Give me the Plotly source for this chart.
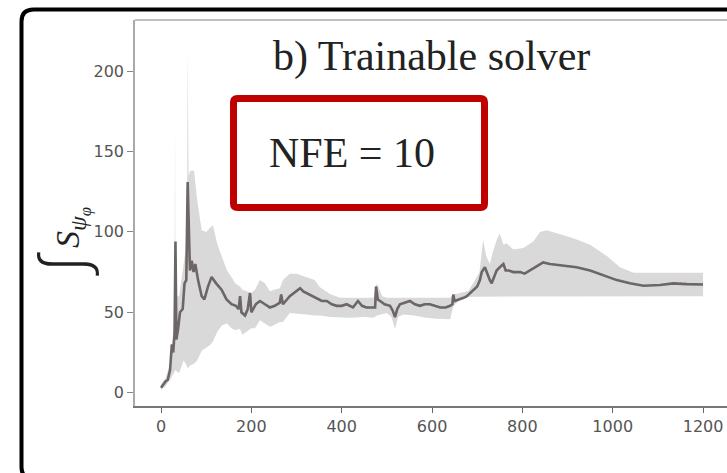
import plotly.graph_objects as go

# ---------------- data ----------------
x_mean = [0, 5, 10, 15, 20, 24, 27, 30, 32, 34, 38, 42, 48, 52, 56, 59, 62, 64, 68, 72,
          76, 82, 90, 96, 104, 112, 122, 134, 145, 156, 166, 172, 175, 178, 186, 192, 197,
          200, 210, 219, 230, 241, 252, 263, 266, 270, 285, 300, 308, 315, 322, 335, 345,
          356, 367, 378, 389, 400, 411, 425, 436, 445, 455, 474, 476, 480, 485, 495, 507,
          513, 518, 523, 529, 540, 551, 562, 573, 584, 595, 606, 618, 630, 640, 645, 647,
          650, 662, 670, 677, 685, 692, 700, 706, 710, 717, 722, 728, 732, 738, 743, 750,
          758, 763, 770, 780, 795, 805, 817, 830, 846, 861, 890, 920, 950, 979, 1009, 1038,
          1068, 1105, 1134, 1164, 1200]
mean_val = [3, 5, 7, 8, 14, 30, 25, 37, 94, 33, 40, 50, 52, 68, 70, 131, 95, 76, 82, 75,
            80, 70, 60, 58, 66, 72, 68, 64, 58, 55, 54, 52, 60, 50, 48, 52, 62,
            50, 55, 57, 55, 53, 54, 56, 61, 55, 60, 63, 65, 63, 62, 60, 59,
            57, 57, 55, 54, 54, 55, 53, 57, 54, 53, 53, 66, 58, 57, 55, 54,
            51, 47, 52, 55, 56, 57, 55, 54, 55, 55, 54, 53, 53, 54, 55, 61,
            57, 58, 59, 60, 62, 64, 66, 70, 75, 78, 74, 70, 68, 72, 76, 78,
            80, 76, 76, 75, 75, 74, 76, 78, 81, 80, 79, 78, 76, 73, 70, 68,
            66.5, 67, 68, 67.5, 67.3]

x_band = [0, 10, 20, 28, 30, 31, 32, 40, 50, 55, 58, 59, 61, 65, 73, 80, 90, 100, 110, 115,
          125, 135, 146, 156, 164, 175, 180, 190, 200, 208, 219, 230, 241, 250, 263, 270,
          285, 300, 322, 340, 352, 374, 396, 418, 450, 470, 478, 490, 500, 510, 518, 525,
          536, 560, 588, 610, 640, 647, 662, 680, 691, 705, 713, 720, 728, 735, 743, 750,
          758, 765, 780, 802, 824, 839, 854, 876, 913, 950, 987, 1016, 1046, 1075, 1200]
band_low = [2, 4, 8, 12, 13, 14, 14, 12, 20, 18, 16, 15, 16, 17, 18, 20, 26, 28, 30, 32,
            38, 42, 43, 40, 39, 39.6, 36, 38, 40, 40, 45, 43, 41, 42, 44, 44,
            49.6, 49, 48.6, 48, 48, 47, 47, 46.6, 47, 46.6, 48, 49, 49.6, 47, 39.6, 47,
            48.6, 48, 46.6, 46, 45.7, 53.6, 58, 59.5, 59.7, 60, 60, 60, 60, 60, 60, 60,
            60, 60, 60, 60, 60, 60, 60, 60, 60, 60, 60, 60, 60, 60, 60]
band_high = [5, 9, 18, 40, 45, 170, 60, 60, 80, 90, 130, 215, 135, 138, 138, 120, 101, 100, 103, 104,
             92, 84, 76, 72, 68, 66, 64, 63, 62, 64, 70, 68, 63, 64, 65, 70,
             74, 74, 72, 70, 65.5, 61.3, 59, 59, 59, 59, 68, 60, 59, 59, 59, 59,
             59, 59, 59, 59, 59, 61, 62, 63, 68, 75, 95, 85, 80, 88, 95, 99,
             92, 93, 89, 90, 94, 100, 101, 99, 96, 92, 85, 78, 74.6, 74.6, 74.6]

x_ticks = [0, 200, 400, 600, 800, 1000, 1200]
y_ticks = [0, 50, 100, 150, 200]

title_text = "b) Trainable solver"
box_text = "NFE = 10"

# ---------------- layout helpers (pixel -> paper) ----------------
W, H = 727, 473
L, R, T, B = 135, 727, 20, 406


def px(x):
    return (x - L) / (R - L)


def py(y):
    return (B - y) / (B - T)


fig = go.Figure()

fig.add_trace(go.Scatter(
    x=x_band + x_band[::-1],
    y=band_high + band_low[::-1],
    fill="toself", fillcolor="#d9d9d9",
    line=dict(width=0), mode="lines", hoverinfo="skip", showlegend=False))

fig.add_trace(go.Scatter(
    x=x_mean, y=mean_val, mode="lines",
    line=dict(color="#6c6666", width=2.6), showlegend=False))

tickfont = dict(family="DejaVu Sans", size=16, color="#555555")

fig.update_layout(
    width=W, height=H,
    margin=dict(l=L, r=W - R, t=T, b=H - B, pad=0),
    paper_bgcolor="white", plot_bgcolor="white",
    xaxis=dict(range=[-57.6, 1253], tickvals=x_ticks, ticks="outside", ticklen=5,
               tickcolor="#666", tickwidth=1.2, showline=True, linecolor="#777",
               linewidth=1.5, showgrid=False, zeroline=False, tickfont=tickfont),
    yaxis=dict(range=[-8.3, 231.8], tickvals=y_ticks, ticks="outside", ticklen=6,
               tickcolor="#888", tickwidth=1.2, showline=True, linecolor="#aaa",
               linewidth=1.5, showgrid=False, zeroline=False, tickfont=tickfont),
)

shapes = []
# top spine
shapes.append(dict(type="line", xref="paper", yref="paper", x0=0, x1=1.05, y0=1, y1=1,
                   line=dict(color="#aaaaaa", width=1.5)))

# red rounded box
x0, x1, y0, y1, r = 233.5, 484.5, 98.5, 207.5, 4
path = (f"M {px(x0 + r)},{py(y0)} L {px(x1 - r)},{py(y0)} Q {px(x1)},{py(y0)} {px(x1)},{py(y0 + r)} "
        f"L {px(x1)},{py(y1 - r)} Q {px(x1)},{py(y1)} {px(x1 - r)},{py(y1)} "
        f"L {px(x0 + r)},{py(y1)} Q {px(x0)},{py(y1)} {px(x0)},{py(y1 - r)} "
        f"L {px(x0)},{py(y0 + r)} Q {px(x0)},{py(y0)} {px(x0 + r)},{py(y0)} Z")
shapes.append(dict(type="path", xref="paper", yref="paper", path=path,
                   line=dict(color="#c00000", width=7)))

# outer black rounded border
bx, by0, by1, br = 21.5, 9.5, 479, 12
opath = (f"M {px(760)},{py(by1)} L {px(bx + br)},{py(by1)} Q {px(bx)},{py(by1)} {px(bx)},{py(by1 - br)} "
         f"L {px(bx)},{py(by0 + br)} Q {px(bx)},{py(by0)} {px(bx + br)},{py(by0)} L {px(760)},{py(by0)}")
shapes.append(dict(type="path", xref="paper", yref="paper", path=opath,
                   line=dict(color="black", width=4)))
fig.update_layout(shapes=shapes)

serif = "Liberation Serif"
ann = []
ann.append(dict(text=title_text, x=px(431), y=py(56), xref="paper", yref="paper",
                xanchor="center", yanchor="middle", showarrow=False,
                font=dict(family=serif, size=42, color="#222")))
ann.append(dict(text=box_text, x=px(352), y=py(153), xref="paper", yref="paper",
                xanchor="center", yanchor="middle", showarrow=False,
                font=dict(family=serif, size=42, color="#222")))
ann.append(dict(text="∫", x=px(64), y=py(264), xref="paper", yref="paper",
                xanchor="center", yanchor="middle", showarrow=False, textangle=-90,
                font=dict(family="Noto Sans CJK SC", size=66, color="#222", weight=300)))
ann.append(dict(text="<i>S</i><sub><i>ψ</i><sub><i>φ</i></sub></sub>", x=px(72), y=py(228),
                xref="paper", yref="paper", xanchor="center", yanchor="middle",
                showarrow=False, textangle=-90,
                font=dict(family=serif, size=34, color="#222")))
fig.update_layout(annotations=ann)

fig.write_html("out.html")
